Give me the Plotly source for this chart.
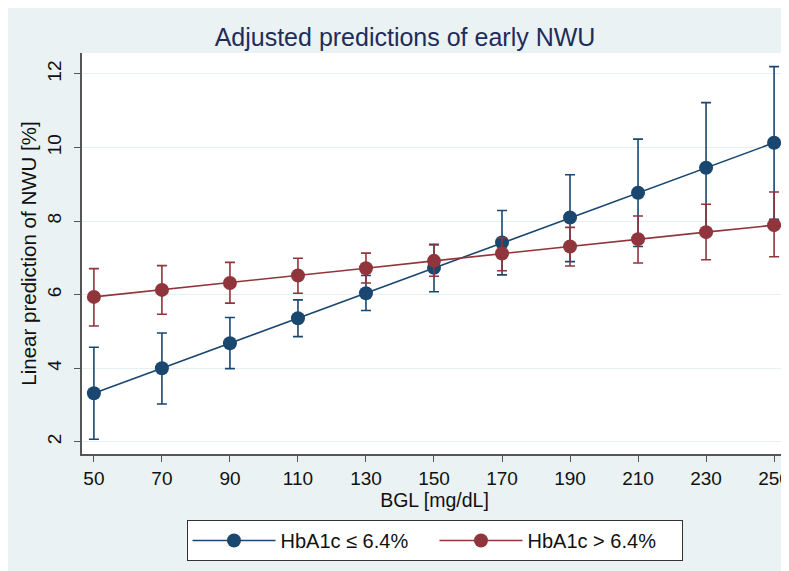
import plotly.graph_objects as go

bgl = [50, 70, 90, 110, 130, 150, 170, 190, 210, 230, 250]

low_pred = [3.32, 4.00, 4.68, 5.36, 6.04, 6.73, 7.42, 8.10, 8.77, 9.45, 10.13]
low_lo = [2.07, 3.03, 3.99, 4.86, 5.57, 6.08, 6.54, 6.90, 7.31, 7.68, 8.05]
low_hi = [4.57, 4.96, 5.38, 5.86, 6.52, 7.37, 8.29, 9.26, 10.23, 11.22, 12.20]

high_pred = [5.94, 6.13, 6.32, 6.52, 6.72, 6.92, 7.12, 7.31, 7.51, 7.70, 7.89]
high_lo = [5.15, 5.47, 5.77, 6.04, 6.32, 6.50, 6.65, 6.78, 6.86, 6.95, 7.03]
high_hi = [6.71, 6.79, 6.88, 6.99, 7.13, 7.35, 7.55, 7.83, 8.14, 8.46, 8.79]

names = ["HbA1c \u2264 6.4%", "HbA1c > 6.4%"]
colors = ["#1a476f", "#90353b"]

fig = go.Figure()
for name, color, pred, lo, hi in [
    (names[0], colors[0], low_pred, low_lo, low_hi),
    (names[1], colors[1], high_pred, high_lo, high_hi),
]:
    fig.add_trace(go.Scatter(
        x=bgl, y=pred, name=name, mode="lines+markers",
        line=dict(color=color, width=1.6),
        marker=dict(color=color, size=14, symbol="circle"),
        cliponaxis=False,
        error_y=dict(
            type="data", symmetric=False,
            array=[h - p for h, p in zip(hi, pred)],
            arrayminus=[p - l for p, l in zip(pred, lo)],
            color=color, thickness=1.6, width=5,
        ),
    ))

# page body has an 8px margin, so the figure fills the rest of the window
W, H = 781, 563
L, R, T, B = 74, 2, 45, 117
pw, ph = W - L - R, H - T - B

font = "Liberation Sans, Arial, Helvetica, sans-serif"

fig.update_layout(
    width=W, height=H,
    margin=dict(l=L, r=R, t=T, b=B, autoexpand=False),
    paper_bgcolor="#eaf2f3",
    plot_bgcolor="white",
    font=dict(family=font, size=19, color="#111111"),
    title=dict(text="Adjusted predictions of early NWU",
               x=(397 - L) / pw, xref="paper", xanchor="center",
               y=1 - 29 / H, yanchor="middle",
               font=dict(size=25, color="#1e2d5a")),
    xaxis=dict(
        range=[46.5, 253.8],
        tickvals=bgl, ticktext=[str(v) for v in bgl],
        ticks="outside", ticklen=6, tickwidth=1.2, tickcolor="#555555",
        ticklabeloverflow="allow",
        showline=True, linecolor="#555555", linewidth=1.5,
        showgrid=False, zeroline=False, automargin=False,
        title=dict(text="BGL [mg/dL]", standoff=2, font=dict(size=19.5)),
        tickfont=dict(size=19, color="#111111"),
    ),
    yaxis=dict(
        range=[1.67, 12.57],
        tickvals=[2, 4, 6, 8, 10, 12],
        ticks="outside", ticklen=6, tickwidth=1.2, tickcolor="#555555",
        tickangle=-90, ticklabelstandoff=6,
        showline=True, linecolor="#555555", linewidth=1.5,
        showgrid=True, gridcolor="#e6eff1", gridwidth=1.2,
        zeroline=False, automargin=False,
        title=dict(text="Linear prediction of NWU [%]", standoff=1, font=dict(size=20.5)),
        tickfont=dict(size=19, color="#111111"),
    ),
    legend=dict(
        orientation="h",
        x=0.5, xanchor="center",
        y=-(512 - (T + ph)) / ph, yanchor="top",
        bgcolor="white", bordercolor="#333333", borderwidth=1,
        font=dict(size=20, color="#111111"),
        itemwidth=83, entrywidth=149,
    ),
    showlegend=True,
)

fig.write_html("out.html", post_script="document.body.style.overflow='hidden';")
